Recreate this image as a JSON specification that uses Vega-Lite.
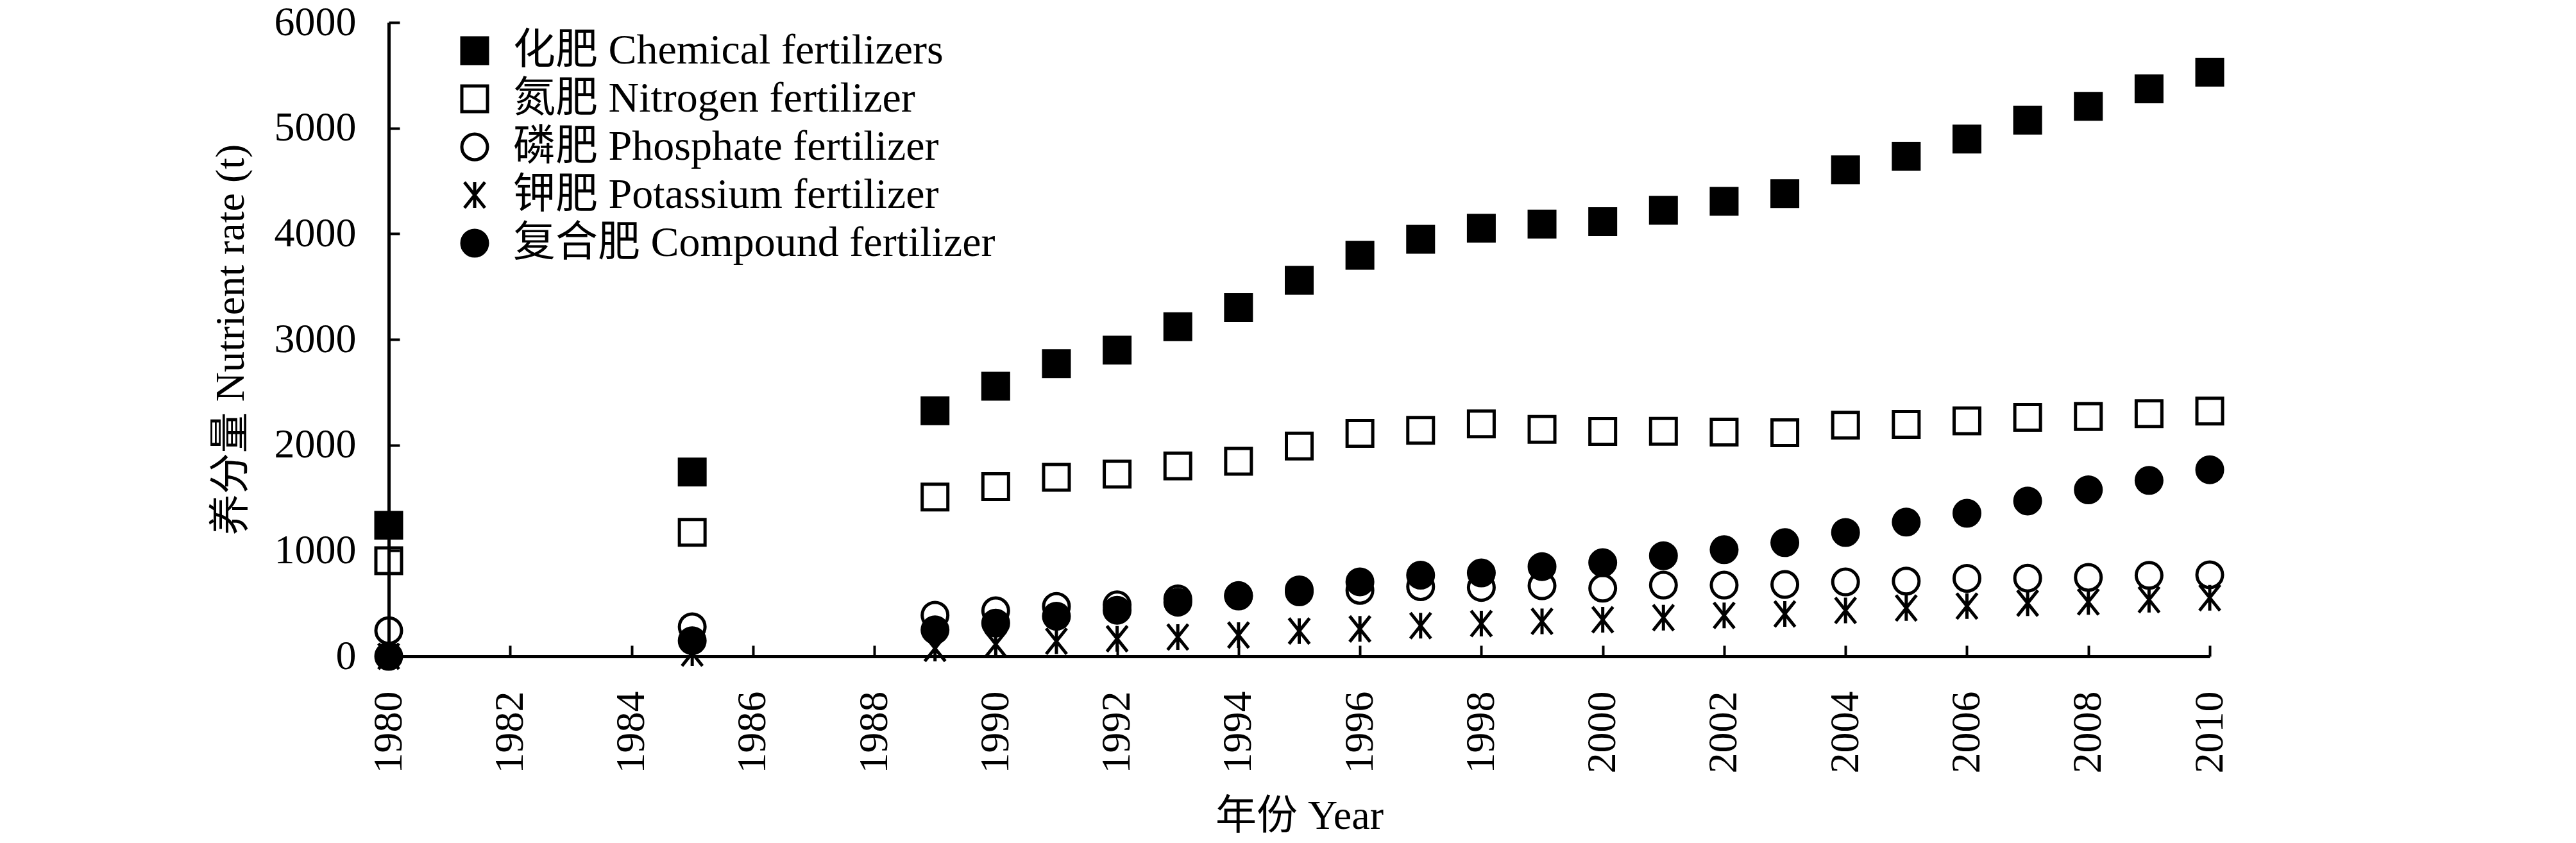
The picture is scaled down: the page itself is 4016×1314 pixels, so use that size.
{
  "$schema": "https://vega.github.io/schema/vega-lite/v6.json",
  "width": 2839,
  "height": 988,
  "autosize": {"type": "none"},
  "padding": {"left": 606, "top": 35, "right": 571, "bottom": 291},
  "background": "white",
  "config": {
    "view": {"stroke": null},
    "font": "Liberation Serif, Noto Sans CJK SC",
    "axis": {
      "grid": false,
      "domainColor": "black",
      "domainWidth": 5,
      "tickColor": "black",
      "tickWidth": 4,
      "tickSize": -17,
      "labelFont": "Liberation Serif, Noto Sans CJK SC",
      "labelFontSize": 64,
      "labelColor": "black",
      "labelFlush": false,
      "labelOverlap": false,
      "labelBound": false,
      "titleFont": "Liberation Serif, Noto Sans CJK SC",
      "titleFontSize": 64,
      "titleFontWeight": "normal",
      "titleColor": "black"
    }
  },
  "data": {
    "values": [
      {"year": 1980, "chem": 1240, "N": 905, "P": 243, "K": 0, "comp": 0},
      {"year": 1985, "chem": 1745, "N": 1174, "P": 280, "K": 30, "comp": 148},
      {"year": 1989, "chem": 2325, "N": 1507, "P": 389, "K": 75, "comp": 250},
      {"year": 1990, "chem": 2557, "N": 1607, "P": 431, "K": 115, "comp": 315},
      {"year": 1991, "chem": 2771, "N": 1694, "P": 472, "K": 143, "comp": 379},
      {"year": 1992, "chem": 2898, "N": 1724, "P": 487, "K": 166, "comp": 436},
      {"year": 1993, "chem": 3120, "N": 1802, "P": 543, "K": 182, "comp": 512},
      {"year": 1994, "chem": 3300, "N": 1846, "P": 575, "K": 201, "comp": 571},
      {"year": 1995, "chem": 3558, "N": 1990, "P": 610, "K": 239, "comp": 629},
      {"year": 1996, "chem": 3795, "N": 2111, "P": 624, "K": 259, "comp": 705},
      {"year": 1997, "chem": 3948, "N": 2139, "P": 659, "K": 290, "comp": 768},
      {"year": 1998, "chem": 4052, "N": 2200, "P": 652, "K": 310, "comp": 789},
      {"year": 1999, "chem": 4092, "N": 2148, "P": 668, "K": 331, "comp": 849},
      {"year": 2000, "chem": 4114, "N": 2129, "P": 645, "K": 346, "comp": 886},
      {"year": 2001, "chem": 4222, "N": 2130, "P": 674, "K": 366, "comp": 952},
      {"year": 2002, "chem": 4307, "N": 2123, "P": 674, "K": 387, "comp": 1009},
      {"year": 2003, "chem": 4380, "N": 2116, "P": 680, "K": 401, "comp": 1076},
      {"year": 2004, "chem": 4604, "N": 2188, "P": 704, "K": 434, "comp": 1172},
      {"year": 2005, "chem": 4734, "N": 2195, "P": 712, "K": 457, "comp": 1270},
      {"year": 2006, "chem": 4896, "N": 2228, "P": 738, "K": 475, "comp": 1354},
      {"year": 2007, "chem": 5075, "N": 2262, "P": 740, "K": 503, "comp": 1470},
      {"year": 2008, "chem": 5206, "N": 2269, "P": 747, "K": 515, "comp": 1576},
      {"year": 2009, "chem": 5371, "N": 2297, "P": 766, "K": 536, "comp": 1665},
      {"year": 2010, "chem": 5530, "N": 2322, "P": 772, "K": 554, "comp": 1766}
    ]
  },
  "transform": [{"fold": ["chem", "N", "P", "K", "comp"], "as": ["series", "value"]}],
  "mark": {"type": "point", "filled": true, "stroke": "black", "strokeWidth": 5, "size": 1600, "opacity": 1, "clip": false},
  "encoding": {
    "x": {
      "field": "year",
      "type": "quantitative",
      "scale": {"domain": [1980, 2010], "nice": false, "zero": false},
      "axis": {
        "values": [1980, 1982, 1984, 1986, 1988, 1990, 1992, 1994, 1996, 1998, 2000, 2002, 2004, 2006, 2008, 2010],
        "format": "d",
        "labelAngle": 270,
        "labelPadding": 71,
        "title": "年份 Year",
        "titlePadding": 35
      }
    },
    "y": {
      "field": "value",
      "type": "quantitative",
      "scale": {"domain": [0, 6000], "nice": false},
      "axis": {
        "values": [0, 1000, 2000, 3000, 4000, 5000, 6000],
        "format": "d",
        "labelPadding": 68,
        "title": "养分量 Nutrient rate (t)",
        "titlePadding": 35
      }
    },
    "shape": {
      "field": "series",
      "type": "nominal",
      "scale": {
        "domain": ["chem", "N", "P", "K", "comp"],
        "range": ["square", "square", "circle", "M0,-1L0,1M-0.8,-1L0.8,1M-0.8,1L0.8,-1", "circle"]
      },
      "legend": {
        "title": null,
        "orient": "none",
        "legendX": 101,
        "legendY": 11,
        "padding": 0,
        "rowPadding": 9,
        "labelOffset": 27,
        "labelFont": "Liberation Serif, Noto Sans CJK SC",
        "labelFontSize": 66,
        "labelColor": "black",
        "labelLimit": 2000,
        "symbolSize": 1600,
        "symbolStrokeWidth": 5,
        "symbolStrokeColor": "black",
        "symbolOpacity": 1,
        "labelExpr": "{'chem':'化肥 Chemical fertilizers','N':'氮肥 Nitrogen fertilizer','P':'磷肥 Phosphate fertilizer','K':'钾肥 Potassium fertilizer','comp':'复合肥 Compound fertilizer'}[datum.label]",
        "encode": {"symbols": {"update": {"stroke": {"value": "black"}, "strokeWidth": {"value": 5}}}}
      }
    },
    "fill": {
      "field": "series",
      "type": "nominal",
      "scale": {
        "domain": ["chem", "N", "P", "K", "comp"],
        "range": ["black", "transparent", "transparent", "transparent", "black"]
      },
      "legend": {
        "title": null,
        "orient": "none",
        "legendX": 101,
        "legendY": 11,
        "padding": 0,
        "rowPadding": 9,
        "labelOffset": 27,
        "labelFont": "Liberation Serif, Noto Sans CJK SC",
        "labelFontSize": 66,
        "labelColor": "black",
        "labelLimit": 2000,
        "symbolSize": 1600,
        "symbolStrokeWidth": 5,
        "symbolStrokeColor": "black",
        "symbolOpacity": 1,
        "labelExpr": "{'chem':'化肥 Chemical fertilizers','N':'氮肥 Nitrogen fertilizer','P':'磷肥 Phosphate fertilizer','K':'钾肥 Potassium fertilizer','comp':'复合肥 Compound fertilizer'}[datum.label]",
        "encode": {"symbols": {"update": {"stroke": {"value": "black"}, "strokeWidth": {"value": 5}}}}
      }
    }
  }
}
